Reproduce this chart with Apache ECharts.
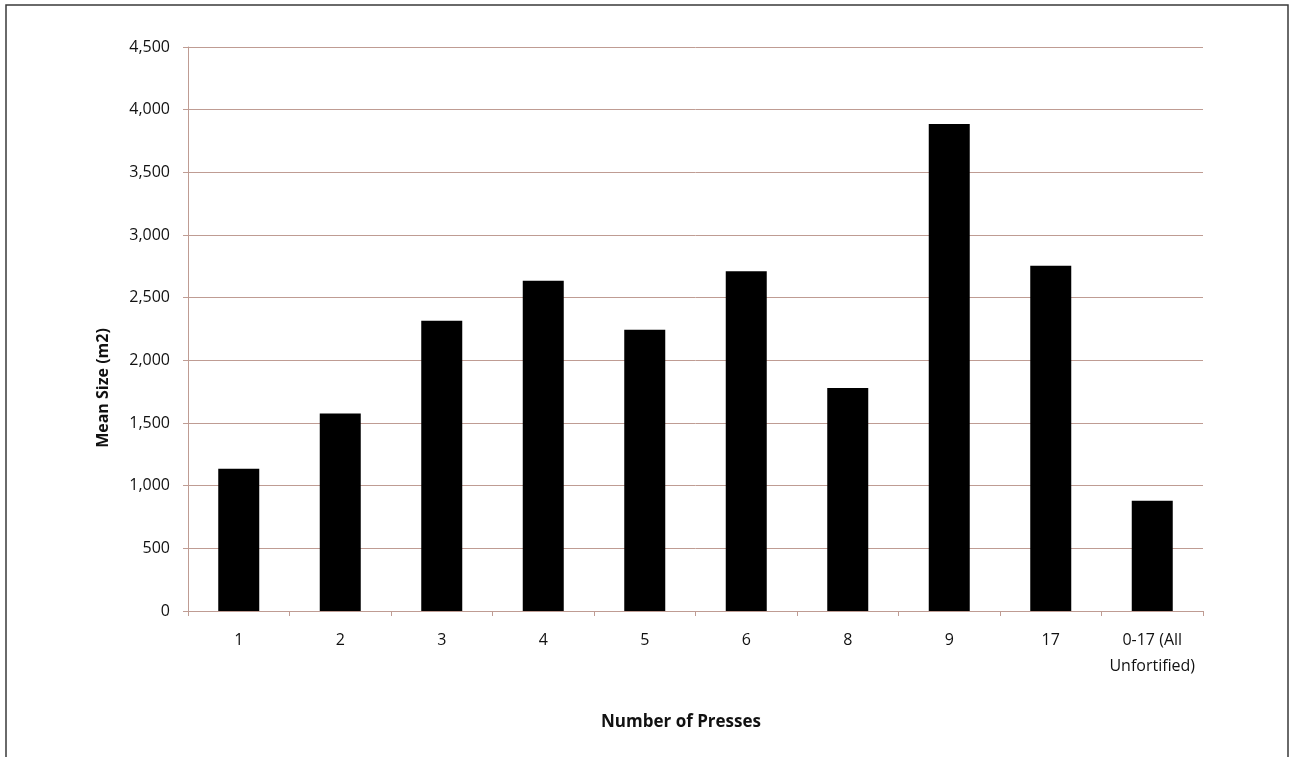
<!DOCTYPE html>
<html>
<head>
<meta charset="utf-8">
<script src="https://cdn.jsdelivr.net/npm/echarts@6/dist/echarts.min.js"></script>
<style>
  html, body { margin: 0; padding: 0; background: #ffffff; }
  #chart { width: 1290px; height: 757px; }
</style>
</head>
<body>
<div id="chart"></div>
<script>
// Number of presses per site and mean site size (m2)
const categories = ['1', '2', '3', '4', '5', '6', '8', '9', '17', '0-17 (All\nUnfortified)'];
const meanSize = [1135, 1575, 2315, 2635, 2245, 2710, 1780, 3885, 2755, 880];
const yTicks = { min: 0, max: 4500, interval: 500 };

const gridColor = '#bf9c93';
const textColor = '#111111';
const fontFamily = '"Open Sans", "Noto Sans", sans-serif';

const chart = echarts.init(document.getElementById('chart'), null, { renderer: 'canvas' });

chart.setOption({
  backgroundColor: '#ffffff',
  animation: false,
  grid: { left: 188, right: 87, top: 47, bottom: 146, containLabel: false },
  xAxis: {
    type: 'category',
    data: categories,
    boundaryGap: true,
    axisLine: { show: true, lineStyle: { color: gridColor, width: 1 } },
    axisTick: { show: true, alignWithLabel: false, length: 5, lineStyle: { color: gridColor } },
    axisLabel: {
      color: textColor, fontFamily: fontFamily, fontSize: 16,
      margin: 16, lineHeight: 26, interval: 0
    }
  },
  yAxis: {
    type: 'value',
    min: yTicks.min, max: yTicks.max, interval: yTicks.interval,
    axisLine: { show: true, lineStyle: { color: gridColor, width: 1 } },
    axisTick: { show: true, length: 5, lineStyle: { color: gridColor } },
    splitLine: { show: true, lineStyle: { color: gridColor, width: 1 } },
    axisLabel: {
      color: textColor, fontFamily: fontFamily, fontSize: 16, margin: 18,
      formatter: v => v.toLocaleString('en-US')
    }
  },
  series: [{
    type: 'bar',
    data: meanSize,
    barWidth: 41,
    itemStyle: { color: '#000000' }
  }],
  graphic: [
    {
      type: 'rect',
      shape: { x: 6, y: 5, width: 1282, height: 770 },
      style: { fill: 'none', stroke: '#3a3a3a', lineWidth: 1.5 },
      silent: true
    },
    {
      type: 'text',
      x: 103, y: 388, rotation: Math.PI / 2,
      style: {
        text: 'Mean Size (m2)', fill: textColor,
        font: 'bold 16px "Open Sans", "Noto Sans", sans-serif',
        textAlign: 'center', textVerticalAlign: 'middle'
      }
    },
    {
      type: 'text',
      x: 681, y: 722,
      style: {
        text: 'Number of Presses', fill: textColor,
        font: 'bold 17px "Open Sans", "Noto Sans", sans-serif',
        textAlign: 'center', textVerticalAlign: 'middle'
      }
    }
  ]
});
</script>
</body>
</html>
